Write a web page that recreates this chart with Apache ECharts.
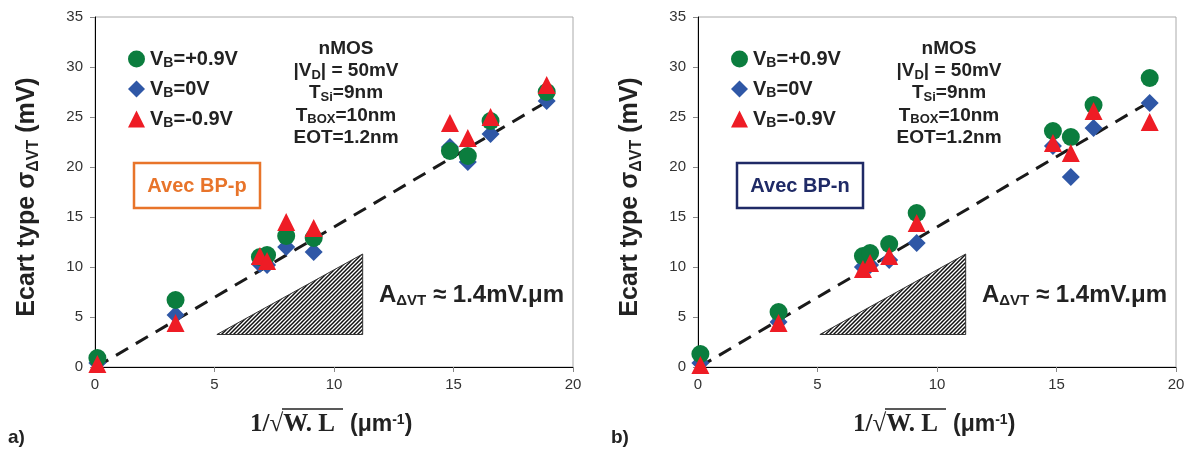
<!DOCTYPE html>
<html><head><meta charset="utf-8">
<script src="https://cdn.jsdelivr.net/npm/echarts@6/dist/echarts.min.js"></script>
<style>html,body{margin:0;padding:0;background:#fff}#c{width:1193px;height:450px}</style>
</head><body><div id="c"></div>
<script>
// ---- data ----
const xVals = [0.1, 3.37, 6.9, 7.2, 8.0, 9.15, 14.85, 15.6, 16.55, 18.9];
// panel a) Avec BP-p
const greenA = [0.9, 6.7, 11.0, 11.2, 13.1, 12.9, 21.6, 21.1, 24.6, 27.5];
const blueA  = [0.4, 5.2, 10.3, 10.2, 12.0, 11.5, 22.0, 20.5, 23.3, 26.6];
const redA   = [0.3, 4.4, 11.1, 10.6, 14.5, 13.9, 24.4, 22.9, 25.0, 28.2];
// panel b) Avec BP-n
const greenB = [1.3, 5.5, 11.1, 11.4, 12.3, 15.4, 23.6, 23.0, 26.2, 28.9];
const blueB  = [0.4, 4.5, 10.0, 10.2, 10.7, 12.4, 22.1, 19.0, 23.9, 26.4];
const redB   = [0.2, 4.4, 9.8, 10.4, 11.1, 14.4, 22.4, 21.4, 25.6, 24.5];
const fitLine = [[0.05, 0], [19.1, 26.8]];
const slopeTriangle = [[5.1, 3.25], [11.2, 3.25], [11.2, 11.3]];
const xTicks = [0, 5, 10, 15, 20];
const yTicks = [0, 5, 10, 15, 20, 25, 30, 35];
const seriesNames = ['VB=+0.9V', 'VB=0V', 'VB=-0.9V'];
const infoLines = [
  ['nMOS', '', ''],
  ['|V', 'D', '| = 50mV'],
  ['T', 'Si', '=9nm'],
  ['T', 'BOX', '=10nm'],
  ['EOT=1.2nm', '', '']
];

const GREEN = '#0b7d3e', BLUE = '#2f57a6', RED = '#ee1c25';

const pc = document.createElement('canvas');
pc.width = 4; pc.height = 4;
const pctx = pc.getContext('2d');
pctx.fillStyle = '#fff'; pctx.fillRect(0, 0, 4, 4);
pctx.strokeStyle = '#111'; pctx.lineWidth = 1.5;
pctx.beginPath();
pctx.moveTo(-1, 5); pctx.lineTo(5, -1);
pctx.moveTo(-1, 1); pctx.lineTo(1, -1);
pctx.moveTo(3, 5); pctx.lineTo(5, 3);
pctx.stroke();

const chart = echarts.init(document.getElementById('c'), null, {renderer: 'canvas'});

const grids = [
  {left: 95, top: 17, width: 478, height: 350, show: true, borderColor: '#aaa', borderWidth: 1, backgroundColor: 'transparent'},
  {left: 698, top: 17, width: 478, height: 350, show: true, borderColor: '#aaa', borderWidth: 1, backgroundColor: 'transparent'}
];
function xAx(i) {
  return {gridIndex: i, type: 'value', min: 0, max: 20, interval: 5,
    axisLine: {show: true, onZero: false, lineStyle: {color: '#000', width: 1}},
    axisTick: {show: true, length: 5, lineStyle: {color: '#888'}},
    axisLabel: {fontSize: 15, color: '#333', fontFamily: 'Liberation Sans', margin: 10},
    splitLine: {show: false}};
}
function yAx(i) {
  return {gridIndex: i, type: 'value', min: 0, max: 35, interval: 5,
    axisLine: {show: true, onZero: false, lineStyle: {color: '#000', width: 1}},
    axisTick: {show: true, length: 5, lineStyle: {color: '#888'}},
    axisLabel: {fontSize: 15, color: '#333', fontFamily: 'Liberation Sans', margin: 12},
    splitLine: {show: false}};
}
function pts(ys) { return xVals.map((x, i) => [x, ys[i]]); }
function scat(name, i, ys, symbol, color, size) {
  return {type: 'scatter', name: name, xAxisIndex: i, yAxisIndex: i, data: pts(ys),
    symbol: symbol, symbolSize: size, itemStyle: {color: color, opacity: 1}, clip: false, z: 3};
}
function panelSeries(i, g, b, r) {
  return [
    {type: 'custom', xAxisIndex: i, yAxisIndex: i, data: [[0]], silent: true, z: 1,
      renderItem: function (params, api) {
        const p = slopeTriangle.map(v => api.coord(v));
        return {type: 'polygon', shape: {points: p},
          style: {fill: {image: pc, repeat: 'repeat'}, stroke: '#333', lineWidth: 1}};
      }},
    {type: 'line', xAxisIndex: i, yAxisIndex: i, data: fitLine, symbol: 'none', silent: true, z: 2,
      lineStyle: {color: '#1a1a1a', width: 3, type: [14, 9]}},
    scat(seriesNames[1], i, b, 'diamond', BLUE, 18),
    scat(seriesNames[0], i, g, 'circle', GREEN, 18),
    scat(seriesNames[2], i, r, 'triangle', RED, 18)
  ];
}
const legendRich = {
  b: {fontSize: 20, fontWeight: 'bold', color: '#222', fontFamily: 'Liberation Sans', lineHeight: 21},
  s: {fontSize: 14, fontWeight: 'bold', color: '#222', fontFamily: 'Liberation Sans', padding: [8, 0, 0, 0], lineHeight: 14}
};
function legend(left) {
  return {left: left, top: 48, orient: 'vertical', itemWidth: 17, itemHeight: 17, itemGap: 8, padding: 0,
    data: [{name: seriesNames[0], icon: 'circle'}, {name: seriesNames[1], icon: 'diamond'}, {name: seriesNames[2], icon: 'triangle'}],
    formatter: n => '{b|V}{s|B}{b|' + n.slice(2) + '}',
    textStyle: {rich: legendRich}};
}

const graphics = [];
const richInfo = {
  b: {font: 'bold 19px "Liberation Sans"', fill: '#222'},
  s: {font: 'bold 13px "Liberation Sans"', fill: '#222', padding: [9, 0, 0, 0]}
};
function addPanelText(dx, label, boxColor, letter) {
  infoLines.forEach((ln, k) => {
    let t = '{b|' + ln[0] + '}';
    if (ln[1]) t += '{s|' + ln[1] + '}';
    if (ln[2]) t += '{b|' + ln[2] + '}';
    graphics.push({type: 'text', x: 346 + dx, y: 49 + k * 22.1,
      style: {text: t, rich: richInfo, align: 'center', verticalAlign: 'middle'}});
  });
  graphics.push({type: 'rect', shape: {x: 134 + dx, y: 163, width: 126, height: 45},
    style: {fill: '#fff', stroke: boxColor, lineWidth: 2.5}});
  graphics.push({type: 'text', x: 197 + dx, y: 186,
    style: {text: label, font: 'bold 20px "Liberation Sans"', fill: boxColor, align: 'center', verticalAlign: 'middle'}});
  graphics.push({type: 'text', x: 379 + dx, y: 295,
    style: {text: '{a|A}{s|ΔVT}{a| ≈ 1.4mV.μm}', verticalAlign: 'middle',
      rich: {a: {font: 'bold 24px "Liberation Sans"', fill: '#222'},
             s: {font: 'bold 15px "Liberation Sans"', fill: '#222', padding: [12, 0, 0, 0]}}}});
  graphics.push({type: 'text', x: 27 + dx, y: 197, rotation: Math.PI / 2,
    style: {text: '{a|Ecart type σ}{s|ΔVT}{a| (mV)}', align: 'center', verticalAlign: 'middle',
      rich: {a: {font: 'bold 25px "Liberation Sans"', fill: '#222'},
             s: {font: 'bold 16px "Liberation Sans"', fill: '#222', padding: [13, 0, 0, 0]}}}});
  graphics.push({type: 'text', x: 250 + dx, y: 425,
    style: {text: '1/√W. L', font: 'bold 25px "Liberation Serif"', fill: '#222', verticalAlign: 'middle'}});
  graphics.push({type: 'line', shape: {x1: 282 + dx, y1: 409, x2: 343 + dx, y2: 409},
    style: {stroke: '#222', lineWidth: 1.5}});
  graphics.push({type: 'text', x: 350 + dx, y: 425,
    style: {text: '{a|(μm}{p|-1}{a|)}', verticalAlign: 'middle',
      rich: {a: {font: 'bold 23px "Liberation Sans"', fill: '#222'},
             p: {font: 'bold 14px "Liberation Sans"', fill: '#222', padding: [0, 0, 10, 0]}}}});
  graphics.push({type: 'text', x: 8 + dx, y: 438,
    style: {text: letter, font: 'bold 19px "Liberation Sans"', fill: '#222', verticalAlign: 'middle'}});
}
addPanelText(0, 'Avec BP-p', '#e8742a', 'a)');
addPanelText(603, 'Avec BP-n', '#1f2a66', 'b)');

chart.setOption({
  animation: false,
  backgroundColor: '#fff',
  grid: grids,
  xAxis: [xAx(0), xAx(1)],
  yAxis: [yAx(0), yAx(1)],
  legend: [legend(128), legend(731)],
  series: panelSeries(0, greenA, blueA, redA).concat(panelSeries(1, greenB, blueB, redB)),
  graphic: graphics
});
</script></body></html>
